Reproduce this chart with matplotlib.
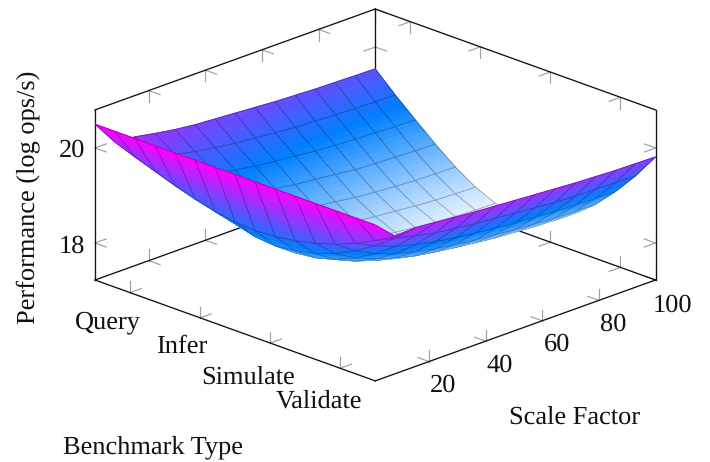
import numpy as np
import matplotlib
matplotlib.use("Agg")
import matplotlib.pyplot as plt
from matplotlib.colors import LinearSegmentedColormap, Normalize
from mpl_toolkits.mplot3d import proj3d
from mpl_toolkits.mplot3d.art3d import Poly3DCollection

plt.rcParams['font.family'] = ['Liberation Serif', 'DejaVu Serif']
plt.rcParams['text.hinting'] = 'none'

bench_labels = ['Query', 'Infer', 'Simulate', 'Validate']
bench_ticks = [0, 1, 2, 3]
scale_ticks = [20, 40, 60, 80, 100]
perf_ticks = [18, 20]

# Rows: scale factor samples, columns: benchmark samples
perf = np.array([
 [20.50,20.50,20.50,20.50,20.50,20.50,20.50,20.50,20.50,20.50,20.50,20.50,20.50,20.50,20.50],
 [19.97,19.81,19.66,19.51,19.38,19.27,19.20,19.17,19.20,19.26,19.36,19.49,19.66,19.87,20.11],
 [19.93,19.68,19.46,19.24,19.02,18.86,18.74,18.70,18.75,18.84,18.99,19.20,19.46,19.77,20.14],
 [19.85,19.56,19.30,19.02,18.79,18.60,18.46,18.40,18.45,18.57,18.75,18.99,19.29,19.67,20.10],
 [19.78,19.47,19.17,18.88,18.62,18.40,18.26,18.20,18.26,18.38,18.58,18.84,19.18,19.58,20.06],
 [19.73,19.40,19.08,18.78,18.50,18.27,18.11,18.05,18.11,18.24,18.45,18.73,19.09,19.52,20.02],
 [19.70,19.34,19.01,18.69,18.39,18.16,17.98,17.92,17.99,18.13,18.34,18.64,19.02,19.47,19.99],
 [19.67,19.30,18.96,18.62,18.31,18.07,17.90,17.83,17.90,18.04,18.27,18.58,18.97,19.43,19.96],
 [19.64,19.26,18.92,18.58,18.26,18.00,17.83,17.76,17.83,17.98,18.21,18.52,18.92,19.39,19.93],
 [19.61,19.22,18.87,18.53,18.20,17.95,17.77,17.70,17.77,17.92,18.16,18.48,18.88,19.35,19.90],
 [19.59,19.20,18.84,18.48,18.16,17.91,17.72,17.65,17.72,17.87,18.11,18.44,18.85,19.31,19.87],
 [19.57,19.18,18.82,18.46,18.13,17.87,17.68,17.61,17.68,17.84,18.08,18.41,18.82,19.29,19.85],
 [19.56,19.16,18.80,18.44,18.10,17.84,17.65,17.58,17.65,17.81,18.05,18.38,18.80,19.28,19.83],
 [19.55,19.15,18.78,18.42,18.09,17.82,17.63,17.56,17.63,17.79,18.03,18.37,18.79,19.27,19.82],
 [19.54,19.14,18.77,18.41,18.08,17.81,17.62,17.55,17.62,17.78,18.02,18.36,18.78,19.26,19.81],
])

B_LIM = (-0.5, 3.5)
S_LIM = (1, 100)
Z_LIM = (17.22, 20.80)
COLOR_LIM = (17.45, 20.50)
bench = np.linspace(*B_LIM, perf.shape[1])
scale = np.linspace(*S_LIM, perf.shape[0])

cmap = LinearSegmentedColormap.from_list('wbm', [(1, 1, 1), (0, 128/255, 1), (1, 0, 1)])
norm = Normalize(*COLOR_LIM)

W, H = 710, 462
fig = plt.figure(figsize=(W/100, H/100), dpi=100)
ax = fig.add_axes([0, -124/H, 1, 710/H], projection='3d', proj_type='ortho', computed_zorder=False)
ELEV, AZIM = 21.1, -45
ASPECT = np.array([1, 1, 0.46])
ax.view_init(elev=ELEV, azim=AZIM)
ax.set_box_aspect(ASPECT)
ax.set_xlim(*B_LIM); ax.set_ylim(*S_LIM); ax.set_zlim(*Z_LIM)
ax.set_axis_off()
ax.patch.set_alpha(0)


def to_px(x, y, z):
    ax.apply_aspect()
    xs, ys, _ = proj3d.proj_transform(np.atleast_1d(x), np.atleast_1d(y), np.atleast_1d(z), ax.get_proj())
    return ax.transData.transform(np.c_[xs, ys])


# Fit the projected box onto the reference's frame (pixel rect, y up)
side = 710.0
left, bottom = 0.0, -124.0
for _ in range(3):
    ax.set_position([left/W, bottom/H, side/W, side/H])
    p = to_px([B_LIM[0]], [S_LIM[0]], [Z_LIM[0]])
    q = to_px([B_LIM[1]], [S_LIM[1]], [Z_LIM[0]])
    side *= (655.5 - 95.0) / (q[0, 0] - p[0, 0])
    ax.set_position([left/W, bottom/H, side/W, side/H])
    p = to_px([B_LIM[0]], [S_LIM[0]], [Z_LIM[0]])
    left += 95.0 - p[0, 0]
    bottom += (H - 280.0) - p[0, 1]
ax.set_position([left/W, bottom/H, side/W, side/H])

# Frame
FRAME = dict(color='#111111', lw=0.95, zorder=2, solid_capstyle='projecting', clip_on=False)
b0, b1 = B_LIM; s0, s1 = S_LIM; z0, z1 = Z_LIM
for xs, ys, zs in [
    ((b0, b1), (s0, s0), (z0, z0)), ((b1, b1), (s0, s1), (z0, z0)),
    ((b0, b1), (s1, s1), (z0, z0)), ((b0, b0), (s0, s1), (z0, z0)),
    ((b0, b0), (s0, s0), (z0, z1)), ((b1, b1), (s1, s1), (z0, z1)),
    ((b0, b0), (s1, s1), (z0, z1)),
    ((b0, b0), (s0, s1), (z1, z1)), ((b0, b1), (s1, s1), (z1, z1)),
]:
    ax.plot(xs, ys, zs, **FRAME)

# Tick marks: two short strokes per tick
db = 0.040 * (b1 - b0); ds = 0.040 * (s1 - s0); dz = 0.066 * (z1 - z0)
TICK = dict(color='#a0a0a0', lw=0.85, zorder=1, clip_on=False)


def tick(x, y, z, *dirs):
    for d in dirs:
        ax.plot((x, x + d[0]), (y, y + d[1]), (z, z + d[2]), **TICK)


for t in bench_ticks:
    tick(t, s0, z0, (0, 0, dz), (0, ds, 0))
    tick(t, s1, z0, (0, 0, dz), (0, -ds, 0))
    tick(t, s1, z1, (0, 0, -dz), (0, -ds, 0))
for t in scale_ticks:
    tick(b1, t, z0, (0, 0, dz), (-db, 0, 0))
    tick(b0, t, z0, (0, 0, dz), (db, 0, 0))
    tick(b0, t, z1, (0, 0, -dz), (db, 0, 0))
for t in perf_ticks:
    tick(b0, s0, t, (db, 0, 0), (0, ds, 0))
    tick(b1, s1, t, (-db, 0, 0), (0, -ds, 0))
    tick(b0, s1, t, (db, 0, 0), (0, -ds, 0))

# Surface: each data cell shaded by bilinear subdivision, mesh lines kept on top
N = 6
u = np.linspace(0, 1, N + 1)
rng = np.array([b1 - b0, s1 - s0, z1 - z0])
el, az = np.radians(ELEV), np.radians(AZIM)
view = np.array([np.cos(el)*np.cos(az), np.cos(el)*np.sin(az), np.sin(el)])
bias = 0.03 * view * rng / ASPECT
polys, faces, edges = [], [], []
nk, nj = perf.shape
for k in range(nk - 1):
    for j in range(nj - 1):
        c00 = np.array([bench[j], scale[k], perf[k, j]])
        c01 = np.array([bench[j+1], scale[k], perf[k, j+1]])
        c10 = np.array([bench[j], scale[k+1], perf[k+1, j]])
        c11 = np.array([bench[j+1], scale[k+1], perf[k+1, j+1]])
        P = lambda a, c: (1-a)*(1-c)*c00 + a*(1-c)*c01 + (1-a)*c*c10 + a*c*c11
        for ia in range(N):
            for ic in range(N):
                q = [P(u[ia], u[ic]), P(u[ia+1], u[ic]), P(u[ia+1], u[ic+1]), P(u[ia], u[ic+1])]
                col = cmap(norm(np.mean([v[2] for v in q])))
                polys.append(q); faces.append(col); edges.append(col)
        seglist = [(c00, c01), (c00, c10)]
        if j == nj - 2:
            seglist.append((c01, c11))
        if k == nk - 2:
            seglist.append((c10, c11))
        for a, c in seglist:
            for i in range(N):
                pa = a + (c - a)*u[i] + bias
                pc = a + (c - a)*u[i+1] + bias
                col = np.array(cmap(norm((pa[2] + pc[2])/2 - bias[2])))
                col[:3] *= 0.70
                polys.append([pa, pc, pc, pa]); faces.append(tuple(col)); edges.append(tuple(col))

surf = Poly3DCollection(polys, facecolors=faces, edgecolors=edges, linewidths=0.65, zorder=3, clip_on=False)
ax.add_collection3d(surf)
ax.set_xlim(*B_LIM); ax.set_ylim(*S_LIM); ax.set_zlim(*Z_LIM)


def px_text(x, y, s, **kw):
    fig.text(x/W, 1 - y/H, s, ha=kw.pop('ha', 'center'), va=kw.pop('va', 'center'), fontsize=FS, color='#111111', **kw)


FS = 19.0
for t, (x, y) in zip(perf_ticks, [(72, 246), (72, 150)]):
    px_text(x, y, str(t))
for lab, (x, y) in zip(bench_labels, [(108, 322), (182, 346), (248, 377), (319, 401)]):
    px_text(x, y, lab)
for t, (x, y) in zip(scale_ticks, [(443, 385), (500, 365), (557, 344), (613, 324), (672, 305)]):
    px_text(x, y, str(t))
px_text(28, 197, 'Performance (log ops/s)', rotation=90)
px_text(575, 417, 'Scale Factor')
px_text(153, 447, 'Benchmark Type')

fig.savefig('out.png', dpi=100)
